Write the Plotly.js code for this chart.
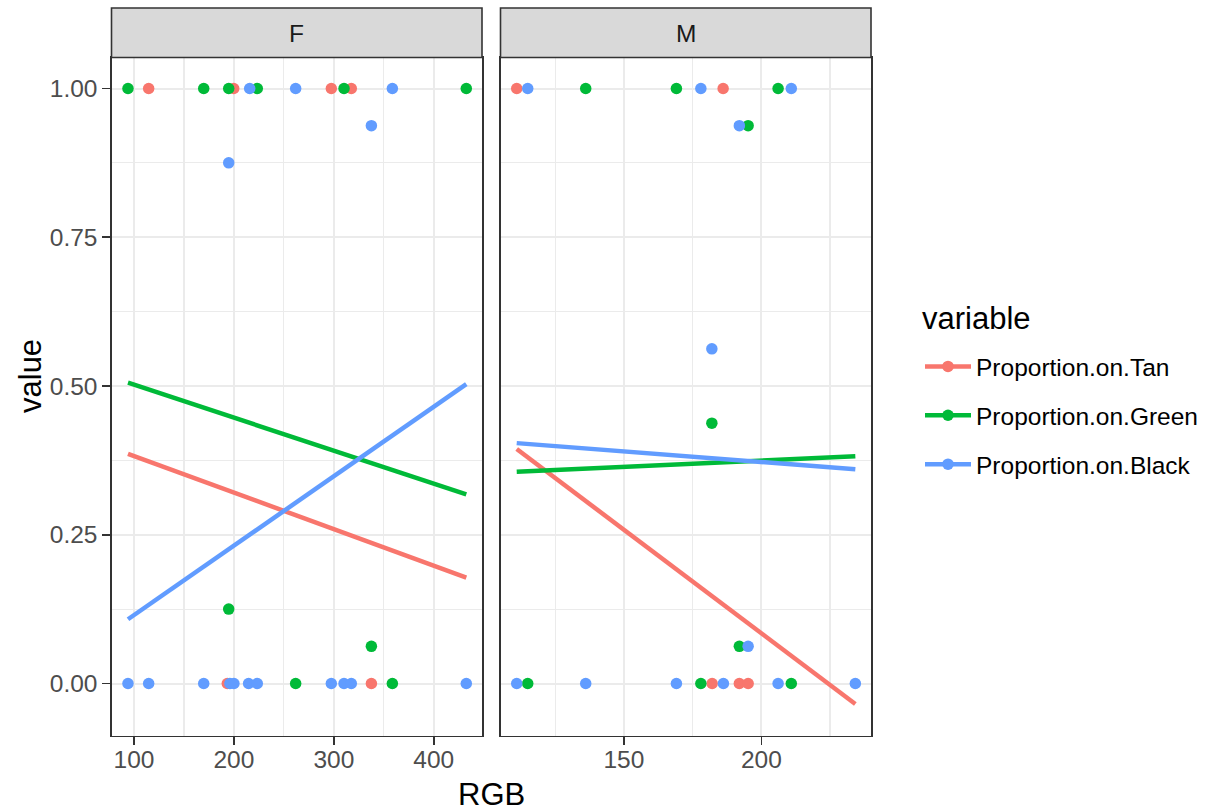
<!DOCTYPE html>
<html>
<head>
<meta charset="utf-8">
<script src="https://cdn.plot.ly/plotly-3.0.1.min.js"></script>
<style>
  html, body { margin: 0; padding: 0; background: #ffffff; }
  #chart { width: 1215px; height: 812px; }
</style>
</head>
<body>
<div id="chart"></div>
<script>
// ---- data: facet F ----
const tanF_rgb   = [114.7, 199.8, 297.5, 317.5, 193.4, 337.6];
const tanF_val   = [1, 1, 1, 1, 0, 0];
const greenF_rgb = [94.0, 169.8, 194.8, 223.4, 310.2, 432.6, 194.8, 337.6, 261.8, 358.6];
const greenF_val = [1, 1, 1, 1, 1, 1, 0.125, 0.0625, 0, 0];
const blackF_rgb = [215.8, 261.8, 358.6, 337.6, 194.8, 94.0, 114.7, 169.8, 196.0, 200.0, 214.7, 223.4, 297.5, 310.2, 317.5, 432.6];
const blackF_val = [1, 1, 1, 0.9375, 0.875, 0, 0, 0, 0, 0, 0, 0, 0, 0, 0, 0];

// ---- data: facet M ----
const tanM_rgb   = [111.0, 186.1, 182.1, 192.0, 195.2];
const tanM_val   = [1, 1, 0, 0, 0];
const greenM_rgb = [136.1, 169.1, 206.1, 195.2, 182.0, 192.0, 115.0, 178.0, 210.9];
const greenM_val = [1, 1, 1, 0.9375, 0.4375, 0.0625, 0, 0, 0];
const blackM_rgb = [115.0, 178.0, 210.9, 192.0, 182.0, 195.2, 111.0, 136.1, 169.1, 186.2, 206.1, 234.2];
const blackM_val = [1, 1, 1, 0.9375, 0.5625, 0.0625, 0, 0, 0, 0, 0, 0];

// ---- linear fits (end points of each fitted line) ----
const fitF_rgb   = [94.0, 432.6];
const fitF_tan   = [0.386, 0.178];
const fitF_green = [0.5055, 0.318];
const fitF_black = [0.108, 0.503];
const fitM_rgb   = [111.0, 234.2];
const fitM_tan   = [0.394, -0.0345];
const fitM_green = [0.356, 0.382];
const fitM_black = [0.404, 0.360];

const seriesNames = ['Proportion.on.Tan', 'Proportion.on.Green', 'Proportion.on.Black'];
const seriesColors = ['#F8766D', '#00BA38', '#619CFF'];
const facetLabels = ['F', 'M'];

const W = 1215, H = 812;
const px = v => v / W;
const py = v => (H - v) / H;

const PT = 11.5, LW = 4.5;

function pts(x, y, i, xa, ya) {
  return { x: x, y: y, xaxis: xa, yaxis: ya, type: 'scatter', mode: 'markers',
    marker: { color: seriesColors[i], size: PT, line: { width: 0 } },
    showlegend: false, hoverinfo: 'skip' };
}
function fit(x, y, i, xa, ya) {
  return { x: x, y: y, xaxis: xa, yaxis: ya, type: 'scatter', mode: 'lines',
    line: { color: seriesColors[i], width: LW },
    showlegend: false, hoverinfo: 'skip' };
}

const traces = [
  pts(tanF_rgb, tanF_val, 0, 'x', 'y'),
  pts(greenF_rgb, greenF_val, 1, 'x', 'y'),
  pts(blackF_rgb, blackF_val, 2, 'x', 'y'),
  pts(tanM_rgb, tanM_val, 0, 'x2', 'y2'),
  pts(greenM_rgb, greenM_val, 1, 'x2', 'y2'),
  pts(blackM_rgb, blackM_val, 2, 'x2', 'y2'),
  fit(fitF_rgb, fitF_tan, 0, 'x', 'y'),
  fit(fitF_rgb, fitF_green, 1, 'x', 'y'),
  fit(fitF_rgb, fitF_black, 2, 'x', 'y'),
  fit(fitM_rgb, fitM_tan, 0, 'x2', 'y2'),
  fit(fitM_rgb, fitM_green, 1, 'x2', 'y2'),
  fit(fitM_rgb, fitM_black, 2, 'x2', 'y2')
];

// legend keys (line + point)
seriesNames.forEach((name, i) => {
  traces.push({ x: [null], y: [null], xaxis: 'x', yaxis: 'y', type: 'scatter',
    mode: 'lines+markers', name: name, legendgroup: name,
    line: { color: seriesColors[i], width: LW },
    marker: { color: seriesColors[i], size: PT },
    showlegend: true, hoverinfo: 'skip' });
});

const panelTop = 57.5, panelBottom = 735.5;
const fDom = [111.5, 482], mDom = [500.5, 871];
const yRange = [-0.0874, 1.0521];

const tickFont = { size: 24.5, color: '#4D4D4D' };
const gridCommon = {
  showline: true, mirror: true, linecolor: '#333333', linewidth: 1.6,
  showgrid: true, gridcolor: '#EBEBEB', gridwidth: 2, zeroline: false,
  tickfont: tickFont, tickcolor: '#333333', tickwidth: 1.6, ticklen: 7.5
};

const layout = {
  width: W, height: H,
  margin: { l: 0, r: 0, t: 0, b: 0 },
  paper_bgcolor: '#ffffff', plot_bgcolor: '#ffffff',
  font: { family: 'Liberation Sans, Arial, sans-serif', color: '#000000' },
  xaxis: Object.assign({}, gridCommon, {
    domain: [px(fDom[0]), px(fDom[1])], range: [77.5, 448.3], anchor: 'y',
    tick0: 0, dtick: 100, ticks: 'outside', ticklabelstandoff: -6,
    minor: { tick0: 0, dtick: 50, showgrid: true, gridcolor: '#EBEBEB', gridwidth: 1.2, ticks: '' }
  }),
  xaxis2: Object.assign({}, gridCommon, {
    domain: [px(mDom[0]), px(mDom[1])], range: [105.1, 239.9], anchor: 'y2',
    tick0: 0, dtick: 50, ticks: 'outside', ticklabelstandoff: -6,
    minor: { tick0: 0, dtick: 25, showgrid: true, gridcolor: '#EBEBEB', gridwidth: 1.2, ticks: '' }
  }),
  yaxis: Object.assign({}, gridCommon, {
    domain: [py(panelBottom), py(panelTop)], range: yRange, anchor: 'x',
    tick0: 0, dtick: 0.25, tickformat: '.2f', ticks: 'outside',
    minor: { tick0: 0, dtick: 0.125, showgrid: true, gridcolor: '#EBEBEB', gridwidth: 1.2, ticks: '' }
  }),
  yaxis2: Object.assign({}, gridCommon, {
    domain: [py(panelBottom), py(panelTop)], range: yRange, anchor: 'x2',
    tick0: 0, dtick: 0.25, ticks: '', showticklabels: false,
    minor: { tick0: 0, dtick: 0.125, showgrid: true, gridcolor: '#EBEBEB', gridwidth: 1.2, ticks: '' }
  }),
  shapes: [fDom, mDom].map(d => ({
    type: 'rect', xref: 'paper', yref: 'paper',
    x0: px(d[0]), x1: px(d[1]), y0: py(panelTop), y1: py(8),
    fillcolor: '#D9D9D9', line: { color: '#333333', width: 1.6 }, layer: 'above'
  })),
  annotations: [
    { text: facetLabels[0], xref: 'paper', yref: 'paper', x: px((fDom[0] + fDom[1]) / 2), y: py(33.5),
      showarrow: false, font: { size: 24.5, color: '#1A1A1A' }, xanchor: 'center', yanchor: 'middle' },
    { text: facetLabels[1], xref: 'paper', yref: 'paper', x: px((mDom[0] + mDom[1]) / 2), y: py(33.5),
      showarrow: false, font: { size: 24.5, color: '#1A1A1A' }, xanchor: 'center', yanchor: 'middle' },
    { text: 'RGB', xref: 'paper', yref: 'paper', x: px((fDom[0] + mDom[1]) / 2), y: py(794),
      showarrow: false, font: { size: 31, color: '#000000' }, xanchor: 'center', yanchor: 'middle' },
    { text: 'value', xref: 'paper', yref: 'paper', x: px(30), y: py(376),
      showarrow: false, textangle: -90, font: { size: 31, color: '#000000' }, xanchor: 'center', yanchor: 'middle' },
    { text: 'variable', xref: 'paper', yref: 'paper', x: px(920), y: py(318),
      showarrow: false, font: { size: 31, color: '#000000' }, xanchor: 'left', yanchor: 'middle' }
  ],
  legend: {
    x: px(920), xanchor: 'left', y: py(344), yanchor: 'top',
    bgcolor: 'rgba(0,0,0,0)', borderwidth: 0,
    font: { size: 24.5, color: '#000000' },
    traceorder: 'grouped', tracegroupgap: 14, itemwidth: 46
  },
  hovermode: false
};

Plotly.newPlot('chart', traces, layout, { displayModeBar: false, staticPlot: true });
</script>
</body>
</html>
